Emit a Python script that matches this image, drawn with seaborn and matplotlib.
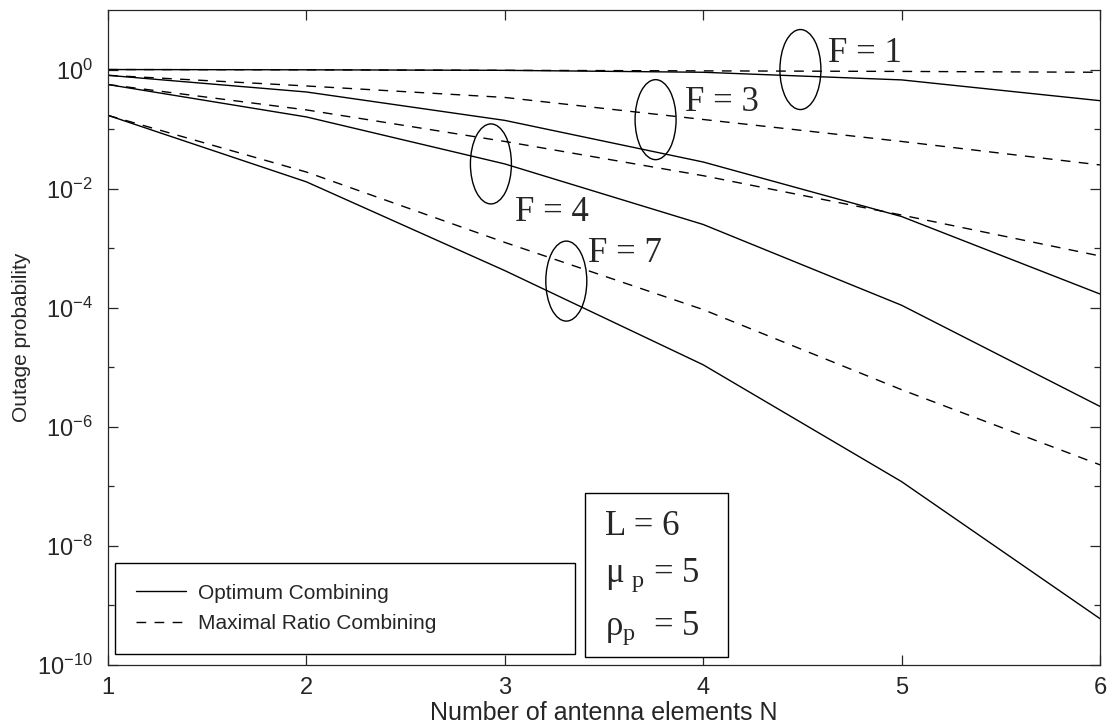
import numpy as np
import pandas as pd
import seaborn as sns
import matplotlib.pyplot as plt
from matplotlib.lines import Line2D
from matplotlib.patches import Ellipse, Rectangle
from matplotlib.ticker import FixedLocator, NullFormatter

# Outage probability
n_elements = [1, 2, 3, 4, 5, 6]
oc_f1 = [1.0, 0.99, 0.97, 0.9, 0.67, 0.3]
mrc_f1 = [1.0, 0.99, 0.97, 0.95, 0.93, 0.9]
oc_f3 = [0.8, 0.42, 0.14, 0.028, 3.4e-3, 1.7e-4]
mrc_f3 = [0.8, 0.53, 0.34, 0.145, 0.062, 0.025]
oc_f4 = [0.56, 0.16, 0.026, 2.5e-3, 1.1e-4, 2.2e-6]
mrc_f4 = [0.56, 0.21, 0.062, 0.0165, 3.6e-3, 7.4e-4]
oc_f7 = [0.17, 0.013, 4.2e-4, 1.1e-5, 1.2e-7, 6e-10]
mrc_f7 = [0.17, 0.019, 1.25e-3, 9.3e-5, 4.2e-6, 2.3e-7]

ytick_values = [1e-10, 1e-8, 1e-6, 1e-4, 1e-2, 1e0]
ytick_labels = [r"$10^{-10}$", r"$10^{-8}$", r"$10^{-6}$", r"$10^{-4}$", r"$10^{-2}$", r"$10^{0}$"]
yminor_values = [1e-9, 1e-7, 1e-5, 1e-3, 1e-1]

oc_name = "Optimum Combining"
mrc_name = "Maximal Ratio Combining"

series = {
    ("F = 1", oc_name): oc_f1, ("F = 1", mrc_name): mrc_f1,
    ("F = 3", oc_name): oc_f3, ("F = 3", mrc_name): mrc_f3,
    ("F = 4", oc_name): oc_f4, ("F = 4", mrc_name): mrc_f4,
    ("F = 7", oc_name): oc_f7, ("F = 7", mrc_name): mrc_f7,
}
rows = []
for (f, method), vals in series.items():
    for n, p in zip(n_elements, vals):
        rows.append({"N": n, "P": p, "F": f, "Method": method})
df = pd.DataFrame(rows)

sns.set_style("ticks")
plt.rcParams["font.family"] = ["Liberation Sans", "DejaVu Sans"]
plt.rcParams["mathtext.default"] = "regular"

fig = plt.figure(figsize=(11.19, 7.26), dpi=100)
ax = fig.add_axes([108 / 1119, 61 / 726, 992 / 1119, 655 / 726])

dash_map = {oc_name: "", mrc_name: (7, 6)}
sns.lineplot(data=df, x="N", y="P", style="Method", units="F", estimator=None,
             color="black", lw=1.0, dashes=dash_map, legend=False, ax=ax)

ax.set_yscale("log")
ax.set_xlim(1, 6)
ax.set_ylim(1e-10, 1e1)
ax.set_xticks(n_elements)
ax.set_xticklabels([str(n) for n in n_elements])
ax.yaxis.set_major_locator(FixedLocator(ytick_values))
ax.set_yticklabels(ytick_labels)
ax.yaxis.set_minor_locator(FixedLocator(yminor_values))
ax.yaxis.set_minor_formatter(NullFormatter())
ax.xaxis.set_minor_locator(FixedLocator([]))
ax.tick_params(which="both", direction="in", top=True, right=True, width=0.9)
ax.tick_params(which="major", length=7)
ax.tick_params(axis="x", labelsize=17, pad=9)
ax.tick_params(axis="y", labelsize=17, pad=11)
ax.tick_params(which="minor", length=4)
for s in ax.spines.values():
    s.set_linewidth(0.9)

ax.set_xlabel("Number of antenna elements N", fontsize=18, labelpad=1)
ax.set_ylabel("Outage probability", fontsize=15, labelpad=4)

# ellipses marking each group of curves
ell_centers = {"F = 1": (4.49, 1.0), "F = 3": (3.76, 0.144), "F = 4": (2.93, 0.026), "F = 7": (3.31, 2.8e-4)}
label_pos = {"F = 1": (4.63, 1.36), "F = 3": (3.91, 0.204), "F = 4": (3.05, 2.9e-3), "F = 7": (3.42, 5.9e-4)}
to_axes = ax.transAxes.inverted()
for key, (cx, cy) in ell_centers.items():
    axc = to_axes.transform(ax.transData.transform((cx, cy)))
    ax.add_patch(Ellipse(axc, 41 / 992, 80 / 655, transform=ax.transAxes,
                         fill=False, ec="black", lw=1.0))
    lx, ly = label_pos[key]
    ax.text(lx, ly, key, family="Liberation Serif", fontsize=25, ha="left", va="baseline")

# parameter box
ax.add_patch(Rectangle((0.481, 0.012), 0.144, 0.250, transform=ax.transAxes,
                       fill=True, fc="white", ec="black", lw=1.0, zorder=5))
param_lines = ["L = 6", "μ$_{\\ p}$ = 5", "ρ$_{p}$  = 5"]
for txt, yb in zip(param_lines, [0.198, 0.127, 0.046]):
    ax.text(0.501, yb, txt, transform=ax.transAxes, family="Liberation Serif",
            fontsize=25, ha="left", va="baseline", zorder=6)

handles = [Line2D([], [], color="black", lw=1.0),
           Line2D([], [], color="black", lw=1.0, dashes=(7, 6))]
leg = ax.legend(handles, [oc_name, mrc_name], loc="lower left",
                bbox_to_anchor=(0.007, 0.017, 0.464, 0.14), mode="expand",
                borderaxespad=0, fontsize=15, handlelength=2.4, handletextpad=0.6,
                labelspacing=0.55, borderpad=1.0, fancybox=False, framealpha=1)
leg.get_frame().set_edgecolor("black")
leg.get_frame().set_linewidth(1.0)

fig.savefig("out.png", dpi=100)
